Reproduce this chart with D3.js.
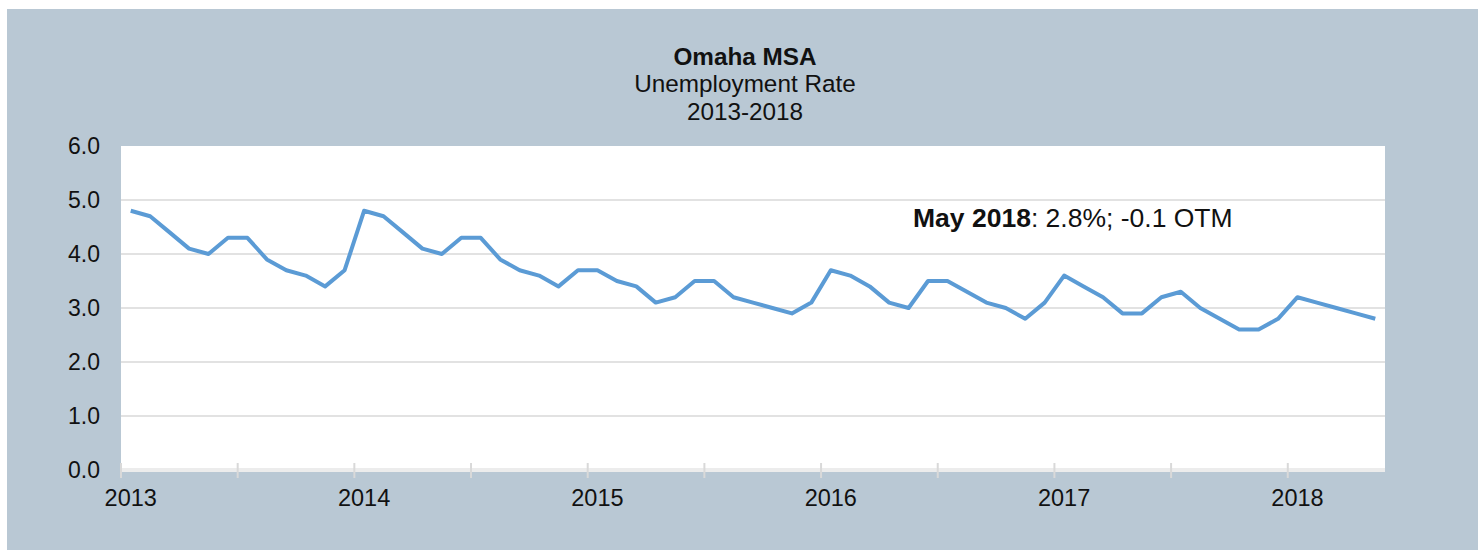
<!DOCTYPE html>
<html>
<head>
<meta charset="utf-8">
<script src="https://cdn.jsdelivr.net/npm/d3@7"></script>
<style>
  body { margin: 0; background: #fff; }
  svg { display: block; font-family: "Liberation Sans", Arial, sans-serif; }
</style>
</head>
<body>
<div id="chart"></div>
<script>
const years = [2013, 2014, 2015, 2016, 2017, 2018];
const monthNames = ["Jan","Feb","Mar","Apr","May","Jun","Jul","Aug","Sep","Oct","Nov","Dec"];
const rate2013 = [4.8, 4.7, 4.4, 4.1, 4.0, 4.3, 4.3, 3.9, 3.7, 3.6, 3.4, 3.7];
const rate2014 = [4.8, 4.7, 4.4, 4.1, 4.0, 4.3, 4.3, 3.9, 3.7, 3.6, 3.4, 3.7];
const rate2015 = [3.7, 3.5, 3.4, 3.1, 3.2, 3.5, 3.5, 3.2, 3.1, 3.0, 2.9, 3.1];
const rate2016 = [3.7, 3.6, 3.4, 3.1, 3.0, 3.5, 3.5, 3.3, 3.1, 3.0, 2.8, 3.1];
const rate2017 = [3.6, 3.4, 3.2, 2.9, 2.9, 3.2, 3.3, 3.0, 2.8, 2.6, 2.6, 2.8];
const rate2018 = [3.2, 3.1, 3.0, 2.9, 2.8];
const yTicks = [0, 1, 2, 3, 4, 5, 6];
const titleLines = ["Omaha MSA", "Unemployment Rate", "2013-2018"];

const width = 1478, height = 550;
const marginLeft = 121, marginRight = 93, marginTop = 146, plotBottom = 470;

const allRates = [rate2013, rate2014, rate2015, rate2016, rate2017, rate2018];
const data = [];
allRates.forEach((arr, yi) => arr.forEach((v, mi) => {
  data.push({ key: years[yi] + "-" + monthNames[mi], year: years[yi], month: mi, value: v });
}));

const svg = d3.select("#chart").append("svg")
  .attr("width", width).attr("height", height);

// chart background
svg.append("rect")
  .attr("x", 7).attr("y", 9)
  .attr("width", width - 7).attr("height", height - 9)
  .attr("fill", "#b9c8d4");

const x = d3.scaleBand()
  .domain(data.map(d => d.key))
  .range([marginLeft, width - marginRight]);

const y = d3.scaleLinear()
  .domain([0, 6])
  .range([plotBottom, marginTop]);

// plot area
svg.append("rect")
  .attr("x", marginLeft).attr("y", marginTop)
  .attr("width", width - marginRight - marginLeft)
  .attr("height", plotBottom - marginTop)
  .attr("fill", "#fff");

// gridlines
svg.append("g")
  .selectAll("line")
  .data(yTicks.filter(t => t > 0 && t < 6))
  .join("line")
    .attr("x1", marginLeft).attr("x2", width - marginRight)
    .attr("y1", d => y(d)).attr("y2", d => y(d))
    .attr("stroke", "#d9d9d9")
    .attr("stroke-width", 1.5);

// y labels
svg.append("g")
  .attr("font-size", 23)
  .attr("fill", "#111")
  .selectAll("text")
  .data(yTicks)
  .join("text")
    .attr("x", 100)
    .attr("y", d => y(d))
    .attr("dy", "0.36em")
    .attr("text-anchor", "end")
    .text(d => d3.format(".1f")(d));

// x axis line
svg.append("line")
  .attr("x1", marginLeft).attr("x2", width - marginRight)
  .attr("y1", plotBottom).attr("y2", plotBottom)
  .attr("stroke", "#ececec")
  .attr("stroke-width", 4);

// ticks every 6 months at category boundaries
const tickData = data.filter(d => d.month % 6 === 0);
svg.append("g")
  .selectAll("line")
  .data(tickData)
  .join("line")
    .attr("x1", d => x(d.key)).attr("x2", d => x(d.key))
    .attr("y1", plotBottom - 7).attr("y2", plotBottom + 8)
    .attr("stroke", "#d9d9d9")
    .attr("stroke-width", 2);

// year labels centred on January
svg.append("g")
  .attr("font-size", 23.5)
  .attr("fill", "#111")
  .selectAll("text")
  .data(data.filter(d => d.month === 0))
  .join("text")
    .attr("x", d => x(d.key) + x.bandwidth() / 2)
    .attr("y", 506)
    .attr("text-anchor", "middle")
    .text(d => d.year);

// line
const line = d3.line()
  .x(d => x(d.key) + x.bandwidth() / 2)
  .y(d => y(d.value));

svg.append("path")
  .datum(data)
  .attr("fill", "none")
  .attr("stroke", "#5b9bd5")
  .attr("stroke-width", 4)
  .attr("stroke-linejoin", "round")
  .attr("d", line);

// title
const title = svg.append("text")
  .attr("text-anchor", "middle")
  .attr("font-size", 24.3)
  .attr("fill", "#111");
title.append("tspan").attr("x", 745).attr("y", 65).attr("font-weight", "bold").text(titleLines[0]);
title.append("tspan").attr("x", 745).attr("y", 92).text(titleLines[1]);
title.append("tspan").attr("x", 745).attr("y", 120).text(titleLines[2]);

// annotation for latest month
const last = data[data.length - 1];
const note = svg.append("text")
  .attr("x", 913).attr("y", 227)
  .attr("font-size", 26.5)
  .attr("fill", "#111");
note.append("tspan").attr("font-weight", "bold").text(monthNames[last.month] + " " + last.year);
note.append("tspan").text(": " + last.value.toFixed(1) + "%; -0.1 OTM");
</script>
</body>
</html>
